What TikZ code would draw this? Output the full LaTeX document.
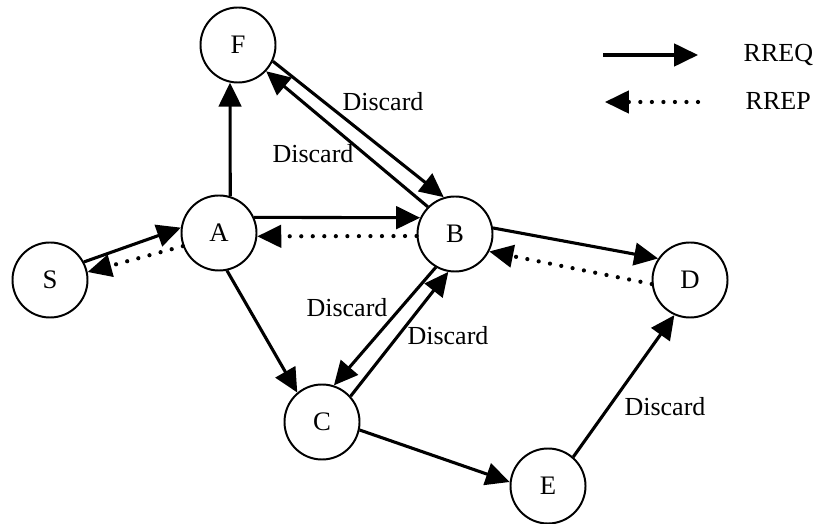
\documentclass[tikz,border=0pt]{standalone}
\usepackage{fontspec}
\setmainfont{Liberation Serif}
\usetikzlibrary{arrows.meta}

\tikzset{
  station/.style={draw, circle, line width=1.4pt, minimum size=1.875cm, inner sep=0pt,
    font=\fontsize{19}{22}\selectfont},
  rreq/.style={line width=2.2pt, -{Triangle[length=17pt,width=16pt]}},
  rrep/.style={line width=3pt, line cap=round, dash pattern=on 0pt off 8.2pt,
    -{Triangle[length=17pt,width=16pt,line width=2.2pt]}},
  lbl/.style={inner sep=1pt, font=\fontsize{18.5}{22}\selectfont}
}

\begin{document}
\begin{tikzpicture}[x=0.025cm, y=-0.025cm]
  \useasboundingbox (0,0) rectangle (817,524);

  % Draw stations
  \node[station] (F) at (238,45) {F};
  \node[station] (S) at (50,280) {S};
  \node[station] (A) at (219,233) {A};
  \node[station] (B) at (455,234) {B};
  \node[station] (D) at (690,280) {D};
  \node[station] (C) at (322,422) {C};
  \node[station] (E) at (548,486) {E};

  % request flooding
  \draw[rreq] (S.28) -- (A.172);
  \draw[rreq] (A.73) -- (F.258);
  \draw[rreq] (A.24) -- (B.155);
  \draw[rreq] (A.282) -- (C.130);
  \draw[rreq] (F.335) -- (B.107);
  \draw[rreq] (B.135) -- (F.317);
  \draw[rreq] (B.9) -- (D.146);
  \draw[rreq] (B.240) -- (C.72);
  \draw[rreq] (C.42) -- (B.260);
  \draw[rreq] (C.348) -- (E.174);
  \draw[rreq] (E.49) -- (D.246);

  % reply path back to the source
  \draw[rrep] (D.186) -- (B.333);
  \draw[rrep] (B.183) -- (A.355);
  \draw[rrep] (A.200) -- (S.12);

  \node[lbl] (dfb) at (383,102) {Discard};
  \node[lbl] (dbf) at (313,154) {Discard};
  \node[lbl] (dbc) at (347,308) {Discard};
  \node[lbl] (dcb) at (448,336) {Discard};
  \node[lbl] (ded) at (665,407) {Discard};

  % legend
  \coordinate (reqa) at (603,55);
  \coordinate (reqb) at (698,55);
  \draw[rreq] (reqa) -- (reqb);
  \node[lbl, anchor=west] (reqtxt) at (742,55) {RREQ};
  \coordinate (repa) at (698,102);
  \coordinate (repb) at (605,102);
  \draw[rrep] (repa) -- (repb);
  \node[lbl, anchor=west] (reptxt) at (744,101) {RREP};
\end{tikzpicture}
\end{document}
